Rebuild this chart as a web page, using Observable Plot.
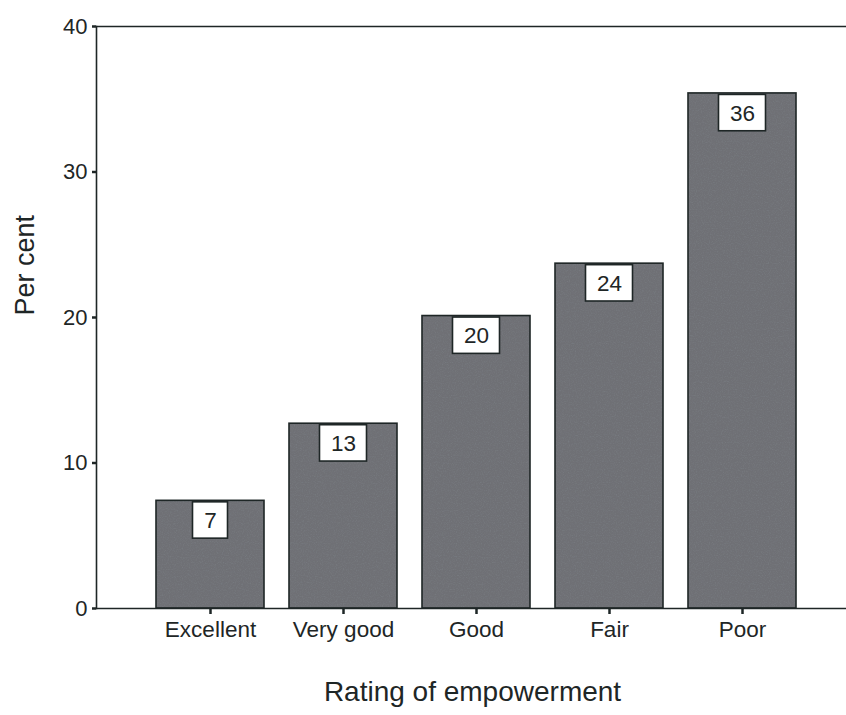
<!DOCTYPE html>
<html>
<head>
<meta charset="utf-8">
<script src="https://cdn.jsdelivr.net/npm/d3@7"></script>
<script src="https://cdn.jsdelivr.net/npm/@observablehq/plot@0.6"></script>
<style>
  html, body { margin: 0; padding: 0; background: #fff; }
  #chart svg { display: block; }
</style>
</head>
<body>
<div id="chart"></div>
<script>
const categories = ["Excellent", "Very good", "Good", "Fair", "Poor"];
const percents = [7.4, 12.7, 20.1, 23.7, 35.4];
const valueLabels = ["7", "13", "20", "24", "36"];
const yTicks = [0, 10, 20, 30, 40];
const xTitle = "Rating of empowerment";
const yTitle = "Per cent";

const data = categories.map((c, i) => ({rating: c, value: percents[i], label: valueLabels[i]}));
const ink = "#1e2626";
const font = "'Liberation Sans', Arial, Helvetica, sans-serif";
const boxH = 2.6; // box height in percentage units

const oneDigit = data.filter(d => d.label.length === 1);
const twoDigit = data.filter(d => d.label.length === 2);

const chart = Plot.plot({
  width: 846,
  height: 715,
  marginTop: 26,
  marginBottom: 107,
  marginLeft: 96,
  marginRight: 0,
  style: {fontFamily: font, color: ink, background: "#fff"},
  x: {domain: categories, range: [96, 857], paddingInner: 0.186, paddingOuter: 0.433, label: null},
  y: {domain: [0, 40], label: null},
  marks: [
    Plot.barY(data, {x: "rating", y: "value", fill: "url(#grain)", stroke: ink, strokeWidth: 1.6}),
    Plot.barY(oneDigit, {x: "rating", y1: "value", y2: d => d.value - boxH, insetTop: 1.5, insetLeft: 36.5, insetRight: 36.5, fill: "#fff", stroke: ink, strokeWidth: 1.6}),
    Plot.barY(twoDigit, {x: "rating", y1: "value", y2: d => d.value - boxH, insetTop: 1.5, insetLeft: 30.5, insetRight: 30.5, fill: "#fff", stroke: ink, strokeWidth: 1.6}),
    Plot.text(data, {x: "rating", y: d => d.value - boxH / 2, text: "label", fontSize: 22.5, fill: ink, dy: 1}),
    Plot.ruleY([0, 40], {stroke: ink, strokeWidth: 1.6}),
    Plot.frame({anchor: "left", stroke: ink, strokeWidth: 1.6}),
    Plot.axisY({ticks: yTicks, tickSize: 4, tickPadding: 5, fontSize: 22, stroke: ink, strokeWidth: 2.5, fill: ink, label: null}),
    Plot.axisX({tickSize: 6, tickPadding: 7, fontSize: 22.5, stroke: ink, strokeWidth: 2.5, fill: ink, label: null}),
    Plot.text([xTitle], {frameAnchor: "bottom", dx: 1, dy: 92, fontSize: 28, fill: ink}),
    Plot.text([yTitle], {frameAnchor: "left", rotate: -90, dx: -71.6, dy: -2, fontSize: 27, fill: ink})
  ]
});

// speckled fill texture for the bars
const ns = "http://www.w3.org/2000/svg";
const defs = document.createElementNS(ns, "defs");
defs.innerHTML = `
  <filter id="noise" x="0" y="0" width="100%" height="100%" filterUnits="userSpaceOnUse">
    <feTurbulence type="fractalNoise" baseFrequency="0.85" numOctaves="2" seed="4" result="n"/>
    <feColorMatrix in="n" type="matrix" values="0 0 0 0 0.2  0 0 0 0 0.22  0 0 0 0 0.24  -1.2 -1.2 -1.2 0 1.9"/>
  </filter>
  <pattern id="grain" patternUnits="userSpaceOnUse" x="0" y="0" width="846" height="715">
    <rect width="846" height="715" fill="#6f7075"/>
    <rect width="846" height="715" fill="#000" filter="url(#noise)" opacity="0.55"/>
  </pattern>`;
chart.insertBefore(defs, chart.firstChild);
document.getElementById("chart").appendChild(chart);
</script>
</body>
</html>
